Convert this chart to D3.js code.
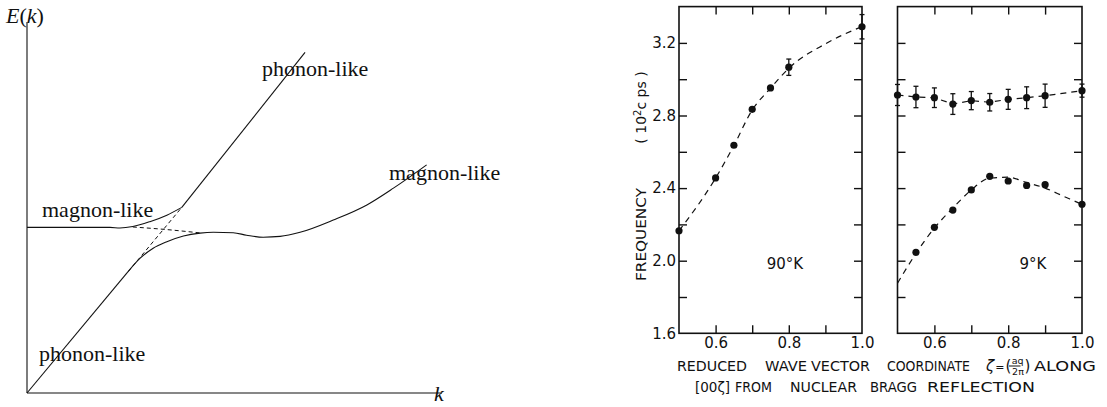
<html>
<head>
<meta charset="utf-8">
<script src="https://d3js.org/d3.v7.min.js"></script>
<style>
body { margin: 0; background: #fff; }
svg { display: block; }
.schem text { font-family: "Liberation Serif", "DejaVu Serif", serif; font-size: 22px; fill: #111; }
.data text { font-family: "DejaVu Sans", sans-serif; fill: #111; }
.tick line { stroke: #111; stroke-width: 1.4; }
</style>
</head>
<body>
<script>
// ---- left: schematic magnon-phonon dispersion (arbitrary units) ----
// upper branch: flat magnon part bending up, then a straight phonon line
var upperCurved = [[0, 4.05], [2.0, 4.05], [2.24, 4.035], [2.55, 4.07], [2.96, 4.19], [3.37, 4.35], [3.73, 4.54]];
var upperStraight = [[3.73, 4.54], [6.70, 8.33]];
// lower branch: straight phonon line from the origin, then bending over into the magnon curve
var lowerStraight = [[0, 0], [2.43, 2.96]];
var lowerCurved = [[2.43, 2.96], [2.72, 3.29], [3.04, 3.54], [3.37, 3.70], [3.77, 3.84], [4.17, 3.91],
                   [4.49, 3.93], [4.97, 3.92], [5.29, 3.86], [5.69, 3.81], [6.10, 3.83], [6.58, 3.93], [7.38, 4.23],
                   [8.19, 4.60], [8.83, 5.01], [9.63, 5.58]];
var magnonBare = [[2.55, 4.06], [3.33, 4.0], [4.22, 3.91]];
var phononBare = [[2.44, 2.97], [3.73, 4.54]];

// ---- right: measured frequencies (10^12 cps) vs reduced wave vector ----
var zeta90 = [0.5, 0.6, 0.65, 0.7, 0.75, 0.8, 1.0];
var freq90 = [2.165, 2.456, 2.636, 2.834, 2.952, 3.066, 3.289];
var err90 = [0, 0, 0, 0, 0, 0.045, 0.067];
var fit90 = [[0.5, 2.165], [0.6, 2.455], [0.65, 2.635], [0.7, 2.83], [0.75, 2.95], [0.8, 3.06], [0.9, 3.195], [1.0, 3.29]];

var zeta9hi = [0.5, 0.55, 0.6, 0.65, 0.7, 0.75, 0.8, 0.85, 0.9, 1.0];
var freq9hi = [2.913, 2.902, 2.898, 2.863, 2.882, 2.873, 2.889, 2.898, 2.909, 2.937];
var err9hi = [0.058, 0.059, 0.054, 0.057, 0.05, 0.048, 0.055, 0.06, 0.064, 0.036];

var zeta9lo = [0.55, 0.6, 0.65, 0.7, 0.75, 0.8, 0.85, 0.9, 1.0];
var freq9lo = [2.046, 2.184, 2.279, 2.39, 2.465, 2.439, 2.415, 2.419, 2.311];
var fit9lo = [[0.5, 1.876], [0.55, 2.04], [0.6, 2.18], [0.65, 2.29], [0.7, 2.39], [0.75, 2.455], [0.8, 2.46],
              [0.85, 2.43], [0.9, 2.40], [0.95, 2.355], [1.0, 2.31]];

var yMinorTicks = [1.8, 2.0, 2.2, 2.4, 2.6, 2.8, 3.0, 3.2];
var yLabelTicks = [1.6, 2.0, 2.4, 2.8, 3.2];
var xMinorTicks = [0.6, 0.7, 0.8, 0.9];
var xLabelTicks = [0.6, 0.8, 1.0];

var svg = d3.select("body").append("svg")
    .attr("width", 1107)
    .attr("height", 407);

// ================= schematic =================
var kx = d3.scaleLinear().domain([0, 10]).range([27, 442]);
var ey = d3.scaleLinear().domain([0, 9]).range([393, 25]);

var schem = svg.append("g").attr("class", "schem");

function sline(curve) {
    return d3.line()
        .x(function(d) { return kx(d[0]); })
        .y(function(d) { return ey(d[1]); })
        .curve(curve);
}

// axes
schem.append("line").attr("x1", kx(0)).attr("x2", kx(0)).attr("y1", 22).attr("y2", ey(0))
    .attr("stroke", "#111").attr("stroke-width", 1.1);
schem.append("line").attr("x1", kx(0)).attr("x2", kx(10)).attr("y1", ey(0)).attr("y2", ey(0))
    .attr("stroke", "#111").attr("stroke-width", 1.1);

[[upperCurved, d3.curveMonotoneX], [upperStraight, d3.curveLinear],
 [lowerStraight, d3.curveLinear], [lowerCurved, d3.curveMonotoneX]].forEach(function(p) {
    schem.append("path").attr("d", sline(p[1])(p[0]))
        .attr("fill", "none").attr("stroke", "#111").attr("stroke-width", 1.1);
});
[magnonBare, phononBare].forEach(function(pts) {
    schem.append("path").attr("d", sline(d3.curveMonotoneX)(pts))
        .attr("fill", "none").attr("stroke", "#111").attr("stroke-width", 1)
        .attr("stroke-dasharray", "4,3");
});

var elab = schem.append("text").attr("x", 6).attr("y", 23);
elab.append("tspan").attr("font-style", "italic").text("E");
elab.append("tspan").text("(");
elab.append("tspan").attr("font-style", "italic").text("k");
elab.append("tspan").text(")");

schem.append("text").attr("x", 434).attr("y", 401).attr("font-size", 16).attr("font-style", "italic").text("k");
schem.append("text").attr("x", 262).attr("y", 76).text("phonon-like");
schem.append("text").attr("x", 389).attr("y", 180).text("magnon-like");
schem.append("text").attr("x", 42).attr("y", 217).text("magnon-like");
schem.append("text").attr("x", 39).attr("y", 361).text("phonon-like");

// ================= data panels =================
var y = d3.scaleLinear().domain([1.6, 3.4]).range([333.3, 6.6]);
var x90 = d3.scaleLinear().domain([0.5, 1.0]).range([679, 862]);
var x9 = d3.scaleLinear().domain([0.5, 1.0]).range([897.5, 1082]);

var data = svg.append("g").attr("class", "data");

function drawFrame(x) {
    var g = data.append("g");
    g.append("rect")
        .attr("x", x(0.5)).attr("y", y(3.4))
        .attr("width", x(1.0) - x(0.5)).attr("height", y(1.6) - y(3.4))
        .attr("fill", "none").attr("stroke", "#111").attr("stroke-width", 1.6);

    var axes = [
        [d3.axisLeft(y).tickValues(yMinorTicks), "translate(" + x(0.5) + ",0)"],
        [d3.axisRight(y).tickValues(yMinorTicks), "translate(" + x(1.0) + ",0)"],
        [d3.axisTop(x).tickValues(xMinorTicks), "translate(0," + y(3.4) + ")"],
        [d3.axisBottom(x).tickValues(xMinorTicks), "translate(0," + y(1.6) + ")"]
    ];
    axes.forEach(function(a) {
        g.append("g").attr("transform", a[1])
            .call(a[0].tickSize(-8).tickFormat(""))
            .call(function(s) { s.select(".domain").remove(); });
    });

    g.append("g").attr("transform", "translate(0," + y(1.6) + ")")
        .call(d3.axisBottom(x).tickValues(xLabelTicks).tickSize(0).tickPadding(4).tickFormat(d3.format(".1f")))
        .call(function(s) {
            s.select(".domain").remove();
            s.selectAll("text").attr("font-size", 15).attr("font-family", "DejaVu Sans, sans-serif").attr("fill", "#111");
        });
    return g;
}

function drawSeries(g, x, xs, ys, errs) {
    errs.forEach(function(e, i) {
        if (!e) return;
        var cx = x(xs[i]);
        g.append("line").attr("x1", cx).attr("x2", cx)
            .attr("y1", y(ys[i] - e)).attr("y2", y(ys[i] + e))
            .attr("stroke", "#111").attr("stroke-width", 1.3);
        [ys[i] - e, ys[i] + e].forEach(function(v) {
            g.append("line").attr("x1", cx - 2.5).attr("x2", cx + 2.5)
                .attr("y1", y(v)).attr("y2", y(v))
                .attr("stroke", "#111").attr("stroke-width", 1.3);
        });
    });
    g.selectAll(null).data(xs).enter().append("circle")
        .attr("cx", function(d) { return x(d); })
        .attr("cy", function(d, i) { return y(ys[i]); })
        .attr("r", 3.6)
        .attr("fill", "#111");
}

function dashed(g, x, pts, curve) {
    var l = d3.line()
        .x(function(d) { return x(d[0]); })
        .y(function(d) { return y(d[1]); })
        .curve(curve);
    g.append("path").attr("d", l(pts))
        .attr("fill", "none").attr("stroke", "#111").attr("stroke-width", 1.2)
        .attr("stroke-dasharray", "6,5");
}

// 90 K panel
var p1 = drawFrame(x90);
p1.append("g").attr("transform", "translate(" + x90(0.5) + ",0)")
    .call(d3.axisLeft(y).tickValues(yLabelTicks).tickSize(0).tickPadding(3).tickFormat(d3.format(".1f")))
    .call(function(s) {
        s.select(".domain").remove();
        s.selectAll("text").attr("font-size", 15).attr("font-family", "DejaVu Sans, sans-serif").attr("fill", "#111");
    });
dashed(p1, x90, fit90, d3.curveMonotoneX);
drawSeries(p1, x90, zeta90, freq90, err90);
p1.append("text").attr("x", 785).attr("y", 269).attr("text-anchor", "middle").attr("font-size", 15).text("90°K");

// 9 K panel
var p2 = drawFrame(x9);
dashed(p2, x9, zeta9hi.map(function(d, i) { return [d, freq9hi[i]]; }), d3.curveLinear);
dashed(p2, x9, fit9lo, d3.curveMonotoneX);
drawSeries(p2, x9, zeta9hi, freq9hi, err9hi);
drawSeries(p2, x9, zeta9lo, freq9lo, zeta9lo.map(function() { return 0; }));
p2.append("text").attr("x", 1033).attr("y", 269).attr("text-anchor", "middle").attr("font-size", 15).text("9°K");

// y title
data.append("text").attr("transform", "translate(646,234.5) rotate(-90)")
    .attr("text-anchor", "middle").attr("font-size", 14)
    .attr("textLength", 93).attr("lengthAdjust", "spacingAndGlyphs")
    .text("FREQUENCY");
var unit = data.append("text").attr("transform", "translate(646,107.5) rotate(-90)")
    .attr("text-anchor", "middle").attr("font-size", 14);
unit.append("tspan").text("( 10");
unit.append("tspan").attr("font-size", 10).attr("dy", -5).text("2");
unit.append("tspan").attr("dy", 5).text("c ps )");

// bottom caption
function word(txt, x0, x1, yb) {
    data.append("text").attr("x", x0).attr("y", yb).attr("font-size", 14)
        .attr("textLength", x1 - x0).attr("lengthAdjust", "spacingAndGlyphs")
        .text(txt);
}
word("REDUCED", 677, 747, 371);
word("WAVE", 765, 807, 371);
word("VECTOR", 811, 870, 371);
word("COORDINATE", 887, 970, 371);
// ζ = (aq / 2π) built as one label
var zeta = data.append("text").attr("x", 986).attr("y", 371).attr("font-size", 15);
zeta.append("tspan").attr("font-style", "italic").text("ζ");
zeta.append("tspan").attr("font-size", 11).attr("dx", 1).text("=");
zeta.append("tspan").attr("dx", 1).text("(");
zeta.append("tspan").attr("font-size", 9.5).attr("dy", -7).attr("dx", 0.5).text("aq");
zeta.append("tspan").attr("font-size", 9.5).attr("dy", 11).attr("dx", -11.5).text("2π");
zeta.append("tspan").attr("dy", -4).attr("dx", 0.5).text(")");
data.append("line").attr("x1", 1009).attr("x2", 1020.5).attr("y1", 366).attr("y2", 366).attr("stroke", "#111").attr("stroke-width", 1);
word("ALONG", 1034, 1096, 371);

word("[00ζ]", 695, 730, 392);
word("FROM", 735, 772, 392);
word("NUCLEAR", 790, 857, 392);
word("BRAGG", 870, 917, 392);
word("REFLECTION", 927, 1035, 392);
</script>
</body>
</html>
